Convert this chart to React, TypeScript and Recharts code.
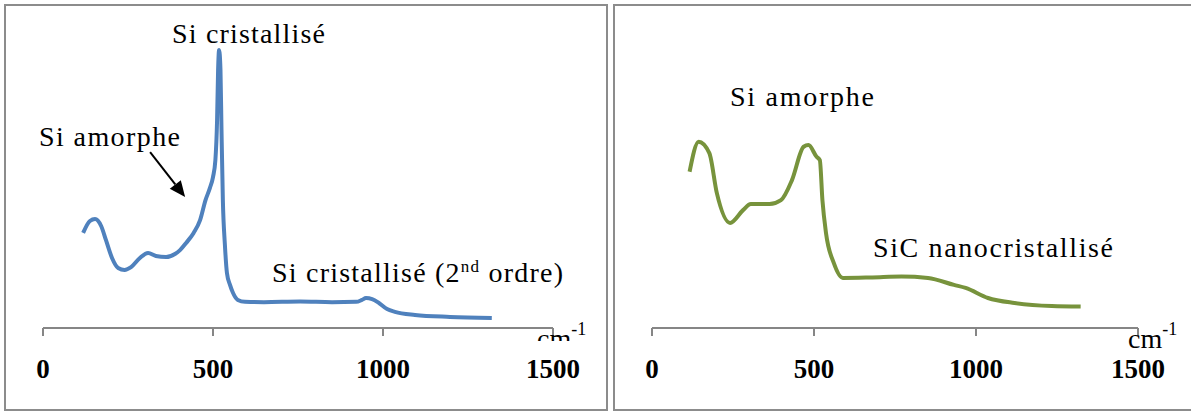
import React from "react";
import { LineChart, Line, XAxis, YAxis, ReferenceLine } from "recharts";

// Left spectrum (Si: amorphous + crystallised)
const leftShift = [118, 138, 153, 171, 185, 203, 221, 240, 259, 285, 309, 332, 362, 388, 403, 421, 443, 462, 478, 491, 500, 507, 512, 515, 518, 522, 525, 529, 535, 541, 550, 559, 573, 594, 650, 756, 850, 921, 938, 950, 968, 988, 1012, 1035, 1094, 1197, 1320];
const leftIntensity = [34.2, 38.5, 39.2, 36.7, 31.7, 25.2, 21.6, 20.9, 21.9, 25.2, 27, 25.9, 25.5, 26.6, 28, 30.6, 34.2, 38.8, 46, 50.4, 54.3, 60.4, 74.8, 92.8, 100, 92.8, 71.2, 46, 29.9, 19.8, 15.5, 12.6, 10.1, 9.4, 9.3, 9.5, 9.3, 9.4, 10.1, 10.8, 10.4, 9, 6.8, 5.8, 4.7, 4, 3.6];

// Right spectrum (Si amorphe + SiC nanocristallisé)
const rightShift = [116, 144, 177, 200, 241, 281, 305, 363, 398, 432, 468, 483, 508, 518, 526, 537, 561, 589, 680, 770, 852, 932, 968, 1037, 1119, 1234, 1323];
const rightIntensity = [56.2, 67, 62.9, 48.6, 37.8, 42.4, 44.6, 44.6, 46, 53.2, 65.2, 65.8, 61.6, 60.4, 46, 34.2, 23.4, 18, 18.2, 18.5, 18, 15.5, 14.4, 10.8, 9, 7.9, 7.7];

const xTicks = [0, 500, 1000, 1500];
const xDomain = [0, 1500];
const yDomain = [0, 100];

// Arrow pointing at amorphous Si shoulder (data coordinates)
const arrowFrom = { x: 315, y: 63.3 };
const arrowTo = { x: 418, y: 47.1 };

const leftData = leftShift.map((s, i) => ({ s, v: leftIntensity[i] }));
const rightData = rightShift.map((s, i) => ({ s, v: rightIntensity[i] }));

const AXIS = "#868686";
const SERIF = "Liberation Serif, Times New Roman, serif";
const txt = { fontFamily: SERIF, fontSize: 28, fill: "#000" } as const;

const Tick = (props: any) => {
  const { x, y, payload } = props;
  return (
    <text x={x} y={y} dy={40} textAnchor="middle" style={{ fontFamily: SERIF, fontWeight: "bold", fontSize: 27 }} fill="#000">
      {payload.value}
    </text>
  );
};

const Arrow = (props: any) => {
  const { x1, y1, x2, y2 } = props;
  const ang = Math.atan2(y2 - y1, x2 - x1);
  const L = 16;
  const W = 7;
  const bx = x2 - L * Math.cos(ang);
  const by = y2 - L * Math.sin(ang);
  const px = -Math.sin(ang) * W;
  const py = Math.cos(ang) * W;
  return (
    <g>
      <line x1={x1} y1={y1} x2={bx} y2={by} stroke="#000" strokeWidth={2} />
      <polygon points={`${x2},${y2} ${bx + px},${by + py} ${bx - px},${by - py}`} fill="#000" />
    </g>
  );
};

const axisProps = {
  dataKey: "s",
  type: "number" as const,
  domain: xDomain,
  ticks: xTicks,
  height: 84,
  tickSize: 8,
  axisLine: { stroke: AXIS, strokeWidth: 2 },
  tickLine: { stroke: AXIS, strokeWidth: 2 },
  tick: <Tick />,
  allowDataOverflow: true,
};

export default function App() {
  return (
    <div style={{ position: "absolute", left: 0, top: 0, width: 1191, height: 412, overflow: "hidden", background: "#fff" }}>
      <div style={{ position: "absolute", left: 0, top: 0 }}>
        <LineChart width={608} height={412} data={leftData} margin={{ top: 50, right: 55, bottom: 0, left: 43 }}>
          <XAxis {...axisProps} />
          <YAxis hide domain={yDomain} type="number" />
          <Line type="monotone" dataKey="v" stroke="#4F81BD" strokeWidth={4} dot={false} isAnimationActive={false} />
          <ReferenceLine
            segment={[arrowFrom, arrowTo]}
            stroke="#000"
            ifOverflow="visible"
            shape={<Arrow />}
          />
        </LineChart>
      </div>
      <div style={{ position: "absolute", left: 614, top: 0 }}>
        <LineChart width={577} height={412} data={rightData} margin={{ top: 50, right: 53, bottom: 0, left: 38 }}>
          <XAxis {...axisProps} />
          <YAxis hide domain={yDomain} type="number" />
          <Line type="monotone" dataKey="v" stroke="#77933C" strokeWidth={4} dot={false} isAnimationActive={false} />
        </LineChart>
      </div>
      <svg width={1191} height={412} style={{ position: "absolute", left: 0, top: 0, pointerEvents: "none" }}>
        <defs>
          <clipPath id="cmclip">
            <rect x={520} y={300} width={80} height={41} />
          </clipPath>
        </defs>
        <rect x={5} y={5} width={602} height={405} fill="none" stroke="#8c8c8c" strokeWidth={2} />
        <rect x={614} y={5} width={600} height={405} fill="none" stroke="#8c8c8c" strokeWidth={2} />
        <text x={172} y={43} style={txt} textLength={153} lengthAdjust="spacing">Si cristallisé</text>
        <text x={39} y={146} style={txt} textLength={141} lengthAdjust="spacing">Si amorphe</text>
        <text x={272} y={282} style={txt} textLength={291} lengthAdjust="spacing">
          Si cristallisé (2<tspan style={{ fontSize: 17 }} dy={-10}>nd</tspan><tspan dy={10}> ordre)</tspan>
        </text>
        <text x={730} y={106} style={txt} textLength={144} lengthAdjust="spacing">Si amorphe</text>
        <text x={873} y={257} style={txt} textLength={240} lengthAdjust="spacing">SiC nanocristallisé</text>
        <g clipPath="url(#cmclip)">
          <text x={537} y={348} style={txt}>cm<tspan style={{ fontSize: 18 }} dy={-13}>-1</tspan></text>
        </g>
        <text x={1128} y={348} style={txt}>cm<tspan style={{ fontSize: 18 }} dy={-13}>-1</tspan></text>
      </svg>
    </div>
  );
}
